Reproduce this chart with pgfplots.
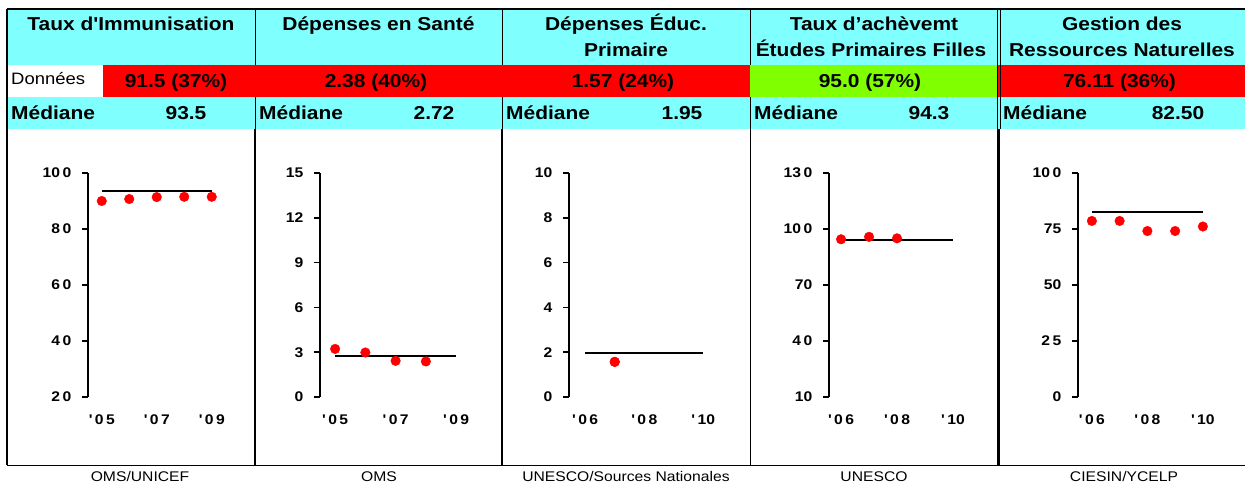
\documentclass[border=0pt]{standalone}
\usepackage{fontspec}
\setmainfont{Liberation Sans}[FakeStretch=1.12, Ligatures=TeXOff]
\usepackage{pgfplots}
\pgfplotsset{compat=1.18}
\definecolor{hcyan}{RGB}{128,255,255}
\definecolor{hred}{RGB}{255,0,0}
\definecolor{hgreen}{RGB}{128,255,0}
\newcommand{\K}{\kern2.4pt}
\newcommand{\tf}{\fontsize{18.7}{20}\selectfont\bfseries}
\pgfplotsset{panel/.style={
  scale only axis, height=224pt, anchor=south west,
  axis x line*=bottom, axis y line*=left,
  x axis line style={draw=none},
  xtick style={draw=none},
  ytick style={line width=1.5pt, black},
  y axis line style={line width=1.7pt},
  tick align=outside, major tick length=6pt,
  ticklabel style={font=\fontsize{14}{14}\selectfont\bfseries},
  xticklabel style={anchor=center, yshift=-16.5pt},
  yticklabel style={anchor=east, inner sep=0pt, xshift=-10.5pt},
  clip=false,
}}
\begin{document}
\begin{tikzpicture}[x=1pt,y=1pt]
\path[use as bounding box] (0,0) rectangle (1245,482);
% header fills
\fill[hcyan] (7,417) rectangle (1250,473);
\fill[hcyan] (7,353) rectangle (1250,385);
\fill[white] (7,385) rectangle (103,417);
\fill[hred] (103,385) rectangle (750,417);
\fill[hgreen] (750,385) rectangle (998,417);
\fill[hred] (998,385) rectangle (1250,417);
% borders
\draw[line width=1.2pt] (7,473) -- (1250,473);
\draw[line width=1.2pt] (7,473) -- (7,17);
\draw[line width=1pt] (7,17) -- (1250,17);
\foreach \xx in {255,502,750}{
  \draw[line width=1pt] (\xx,473) -- (\xx,417);
  \draw[line width=1pt] (\xx,385) -- (\xx,353);
}
\draw[line width=0.8pt] (997.5,473) -- (997.5,353);
\draw[line width=0.8pt] (1000,473) -- (1000,353);
\draw[line width=2.4pt] (255,353) -- (255,17);
\draw[line width=2.4pt] (502,353) -- (502,17);
\draw[line width=1pt] (750,353) -- (750,17);
\draw[line width=2.6pt] (998.5,353) -- (998.5,17);
% titles
\node[anchor=base, font=\tf] at (131,451) {Taux d'Immunisation};
\node[anchor=base, font=\tf] at (378.5,451) {Dépenses en Santé};
\node[anchor=base, font=\tf] at (626,451) {Dépenses Éduc.};
\node[anchor=base, font=\tf] at (626,425) {Primaire};
\node[anchor=base, font=\tf] at (874,451) {Taux d’achèvemt};
\node[anchor=base, font=\tf] at (871,425) {Études Primaires Filles};
\node[anchor=base, font=\tf] at (1122,451) {Gestion des};
\node[anchor=base, font=\tf] at (1122,425) {Ressources Naturelles};
% row 2
\node[anchor=base west, inner sep=0pt, font=\fontsize{16.5}{18}\selectfont] at (11,397.5) {Données};
\node[anchor=base, font=\tf] at (176,394.5) {91.5 (37\%)};
\node[anchor=base, font=\tf] at (376,394.5) {2.38 (40\%)};
\node[anchor=base, font=\tf] at (623,394.5) {1.57 (24\%)};
\node[anchor=base, font=\tf] at (870,394.5) {95.0 (57\%)};
\node[anchor=base, font=\tf] at (1119.5,394.5) {76.11 (36\%)};
% row 3
\foreach \xx in {11,259,506,754,1003}{
  \node[anchor=base west, inner sep=0pt, font=\tf] at (\xx,362.7) {Médiane};
}
\node[anchor=base, font=\tf] at (186,362.7) {93.5};
\node[anchor=base, font=\tf] at (434,362.7) {2.72};
\node[anchor=base, font=\tf] at (682,362.7) {1.95};
\node[anchor=base, font=\tf] at (929,362.7) {94.3};
\node[anchor=base, font=\tf] at (1178,362.7) {82.50};
% sources
\node[anchor=base, font=\fontsize{14}{15}\selectfont] at (140,0.5) {OMS/UNICEF};
\node[anchor=base, font=\fontsize{14}{15}\selectfont] at (379,0.5) {OMS};
\node[anchor=base, font=\fontsize{14}{15}\selectfont] at (626,0.5) {UNESCO/Sources Nationales};
\node[anchor=base, font=\fontsize{14}{15}\selectfont] at (874,0.5) {UNESCO};
\node[anchor=base, font=\fontsize{14}{15}\selectfont] at (1124,0.5) {CIESIN/YCELP};

% panel 1 (x = year - 2000)
\begin{axis}[panel, at={(88pt,85pt)}, width=137.5pt, xmin=4.5, xmax=9.5, ymin=20, ymax=100,
  ytick={20,40,60,80,100}, yticklabels={2\K0,4\K0,6\K0,8\K0,10\K0},
  xtick={5,7,9}, xticklabels={'\K0\K5,'\K0\K7,'\K0\K9}]
\addplot[black, line width=2pt] coordinates {(5,93.5) (9,93.5)};
\addplot[only marks, mark=*, red, mark size=4.8pt, mark options={draw=none, fill=red}]
  coordinates {(5,90.0) (6,90.7) (7,91.4) (8,91.5) (9,91.5)};
\end{axis}
% panel 2
\begin{axis}[panel, at={(320pt,85pt)}, width=151.25pt, xmin=4.5, xmax=9.5, ymin=0, ymax=15,
  ytick={0,3,6,9,12,15}, yticklabels={0,3,6,9,12,15},
  xtick={5,7,9}, xticklabels={'\K0\K5,'\K0\K7,'\K0\K9}]
\addplot[black, line width=2pt] coordinates {(5,2.72) (9,2.72)};
\addplot[only marks, mark=*, red, mark size=4.8pt, mark options={draw=none, fill=red}]
  coordinates {(5,3.22) (6,2.98) (7,2.42) (8,2.38)};
\end{axis}
% panel 3
\begin{axis}[panel, at={(569pt,85pt)}, width=149pt, xmin=5.45, xmax=10.5, ymin=0, ymax=10,
  ytick={0,2,4,6,8,10}, yticklabels={0,2,4,6,8,10},
  xtick={6,8,10}, xticklabels={'\K0\K6,'\K0\K8,'\K10}]
\addplot[black, line width=2pt] coordinates {(6,1.95) (10,1.95)};
\addplot[only marks, mark=*, red, mark size=4.8pt, mark options={draw=none, fill=red}]
  coordinates {(7,1.57) (7,1.57)};
\end{axis}
% panel 4
\begin{axis}[panel, at={(829pt,85pt)}, width=138pt, xmin=5.57, xmax=10.5, ymin=10, ymax=130,
  ytick={10,40,70,100,130}, yticklabels={10,4\K0,70,10\K0,13\K0},
  xtick={6,8,10}, xticklabels={'\K0\K6,'\K0\K8,'\K10}]
\addplot[black, line width=2pt] coordinates {(6,94.3) (10,94.3)};
\addplot[only marks, mark=*, red, mark size=4.8pt, mark options={draw=none, fill=red}]
  coordinates {(6,94.5) (7,95.8) (8,95.0)};
\end{axis}
% panel 5
\begin{axis}[panel, at={(1078pt,85pt)}, width=138.75pt, xmin=5.5, xmax=10.5, ymin=0, ymax=100,
  ytick={0,25,50,75,100}, yticklabels={0,2\K5,50,75,10\K0},
  xtick={6,8,10}, xticklabels={'\K0\K6,'\K0\K8,'\K10}]
\addplot[black, line width=2pt] coordinates {(6,82.5) (10,82.5)};
\addplot[only marks, mark=*, red, mark size=4.8pt, mark options={draw=none, fill=red}]
  coordinates {(6,78.6) (7,78.6) (8,74.1) (9,74.1) (10,76.11)};
\end{axis}
\end{tikzpicture}
\end{document}
